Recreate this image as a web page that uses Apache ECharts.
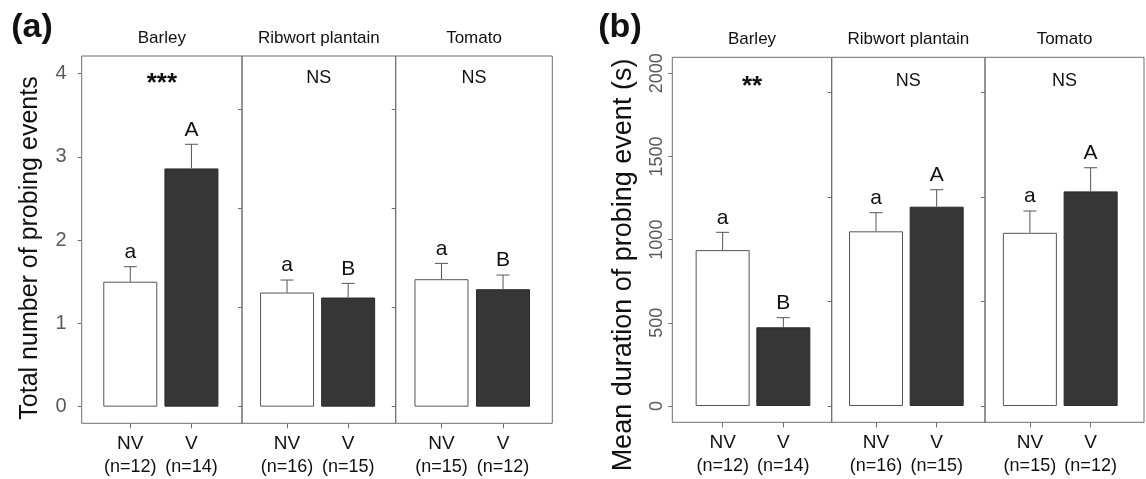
<!DOCTYPE html>
<html><head><meta charset="utf-8">
<script src="https://cdn.jsdelivr.net/npm/echarts@6/dist/echarts.min.js"></script>
<style>html,body{margin:0;padding:0;background:#fff}#c{width:1146px;height:479px}</style>
</head><body><div id="c"></div>
<script>
// ---------------- data ----------------
const plants = ['Barley', 'Ribwort plantain', 'Tomato'];
const groups = ['NV', 'V'];
const sampleSizes = [[12, 14], [16, 15], [15, 12]];

const countMeans = [[1.50, 2.86], [1.37, 1.31], [1.53, 1.41]];
const countSE = [[0.18, 0.29], [0.15, 0.17], [0.19, 0.17]];
const countLetters = [['a', 'A'], ['a', 'B'], ['a', 'B']];
const countSig = ['***', 'NS', 'NS'];
const countTicks = [0, 1, 2, 3, 4];
const countPanelTicks = [0, 1.19, 2.38, 3.57];

const durMeans = [[937, 473], [1050, 1198], [1041, 1290]];
const durSE = [[107, 58], [112, 102], [131, 142]];
const durLetters = [['a', 'B'], ['a', 'A'], ['a', 'A']];
const durSig = ['**', 'NS', 'NS'];
const durTicks = [0, 500, 1000, 1500, 2000];
const durPanelTicks = [0, 628, 1257, 1886];

// ---------------- layout / style ----------------
const FONT = 'Liberation Sans, Arial, Helvetica, sans-serif';
const FRAME = '#6e6e6e';
const DARK = '#363636';
const H = 479;

const figs = [
  { edges: [81.7, 242, 395.7, 552.3], top: 56, height: 367.3, ymin: -0.2, ymax: 4.21,
    pads: [[18, 20], [14.5, 17], [15, 18.5]], means: countMeans, se: countSE, letters: countLetters,
    sig: countSig, ticks: countTicks, panelTicks: countPanelTicks, rotate: 0, labelSize: 20, margin: 15,
    tag: '(a)', tagX: 32, yTitle: 'Total number of probing events', yTitleSize: 25, yTitleX: 30, yTitleY: 248, sigY: 78, titleY: 38 },
  { edges: [672.3, 831.7, 985, 1144], top: 57.3, height: 365, ymin: -98, ymax: 2096,
    pads: [[20, 18], [14, 18], [14.5, 23]], means: durMeans, se: durSE, letters: durLetters,
    sig: durSig, ticks: durTicks, panelTicks: durPanelTicks, rotate: 90, labelSize: 18, margin: 6,
    tag: '(b)', tagX: 620, yTitle: 'Mean duration of probing event (s)', yTitleSize: 27, yTitleX: 624, yTitleY: 265, sigY: 81, titleY: 39 }
];

const grid = [], xAxis = [], yAxis = [], series = [], graphic = [];

figs.forEach(function (f) {
  graphic.push({ type: 'text', x: f.tagX, y: 28, style: { text: f.tag, fontSize: 34, fontWeight: 'bold', fontFamily: FONT, fill: '#111', align: 'center', verticalAlign: 'middle' } });
  graphic.push({ type: 'text', x: f.yTitleX, y: f.yTitleY, rotation: Math.PI / 2, style: { text: f.yTitle, fontSize: f.yTitleSize, fontFamily: FONT, fill: '#111', align: 'center', verticalAlign: 'middle' } });

  for (let i = 0; i < 3; i++) {
    const L = f.edges[i], W = f.edges[i + 1] - f.edges[i];
    // frame grid
    const gFrame = grid.length;
    grid.push({ left: L, top: f.top, width: W, height: f.height, show: true, borderColor: FRAME, borderWidth: 1, backgroundColor: 'transparent' });
    xAxis.push({ type: 'value', gridIndex: gFrame, show: false, min: 0, max: 1 });
    yAxis.push({
      type: 'value', gridIndex: gFrame, min: f.ymin, max: f.ymax,
      axisLine: { show: false }, splitLine: { show: false },
      axisTick: { show: true, length: 4, customValues: i === 0 ? f.ticks : f.panelTicks, lineStyle: { color: FRAME } },
      axisLabel: { show: i === 0, customValues: f.ticks, color: '#5a5a5a', fontSize: f.labelSize, fontFamily: FONT, margin: f.margin, rotate: f.rotate,
        formatter: function (v) { return String(v); } }
    });
    // inner grid for bars
    const gIn = grid.length;
    grid.push({ left: L + f.pads[i][0], top: f.top, width: W - f.pads[i][0] - f.pads[i][1], height: f.height, show: false });
    const ns = sampleSizes[i];
    xAxis.push({
      type: 'category', gridIndex: gIn, data: groups, position: 'bottom',
      axisLine: { show: false, onZero: false },
      axisTick: { show: true, alignWithLabel: true, length: 5, lineStyle: { color: FRAME } },
      axisLabel: {
        interval: 0, margin: 8,
        formatter: function (v, idx) { return '{g|' + v + '}\n{n|(n=' + ns[idx] + ')}'; },
        rich: { g: { fontSize: 19, lineHeight: 24, color: '#111', fontFamily: FONT },
                n: { fontSize: 18, lineHeight: 24, color: '#111', fontFamily: FONT } }
      }
    });
    yAxis.push({ type: 'value', gridIndex: gIn, min: f.ymin, max: f.ymax, show: false });
    const ax = xAxis.length - 1, ay = yAxis.length - 1;
    const means = f.means[i], se = f.se[i], letters = f.letters[i];
    series.push({
      type: 'bar', xAxisIndex: ax, yAxisIndex: ay, barWidth: 54, silent: true,
      data: means.map(function (m, j) {
        return { value: m, itemStyle: j === 0 ? { color: '#ffffff', borderColor: '#555', borderWidth: 1 } : { color: DARK, borderColor: '#2a2a2a', borderWidth: 1 } };
      })
    });
    series.push({
      type: 'custom', xAxisIndex: ax, yAxisIndex: ay, silent: true, z: 5,
      data: means.map(function (m, j) { return [j, m, m + se[j]]; }),
      encode: { x: 0, y: [1, 2] },
      renderItem: function (params, api) {
        const p0 = api.coord([api.value(0), api.value(1)]);
        const p1 = api.coord([api.value(0), api.value(2)]);
        const cap = 6.5;
        return { type: 'group', children: [
          { type: 'line', shape: { x1: p0[0], y1: p0[1], x2: p1[0], y2: p1[1] }, style: { stroke: '#555', lineWidth: 1 } },
          { type: 'line', shape: { x1: p1[0] - cap, y1: p1[1], x2: p1[0] + cap, y2: p1[1] }, style: { stroke: '#555', lineWidth: 1 } },
          { type: 'text', x: p1[0], y: p1[1] - 4, style: { text: letters[params.dataIndex], fontSize: 21, fontFamily: FONT, fill: '#111', align: 'center', verticalAlign: 'bottom' } }
        ] };
      }
    });
    // panel title and significance
    const cx = L + W / 2;
    graphic.push({ type: 'text', x: cx, y: f.titleY, style: { text: plants[i], fontSize: 17, fontFamily: FONT, fill: '#111', align: 'center', verticalAlign: 'middle' } });
    const star = f.sig[i].indexOf('*') >= 0;
    graphic.push({ type: 'text', x: cx, y: f.sigY + (star ? 6 : 0), style: { text: f.sig[i], fontSize: star ? 26 : 18, fontWeight: star ? 'bold' : 'normal', fontFamily: FONT, fill: '#111', align: 'center', verticalAlign: 'middle' } });
  }
});

const chart = echarts.init(document.getElementById('c'), null, { renderer: 'canvas' });
chart.setOption({ animation: false, backgroundColor: '#fff', grid: grid, xAxis: xAxis, yAxis: yAxis, series: series, graphic: graphic });
</script></body></html>
